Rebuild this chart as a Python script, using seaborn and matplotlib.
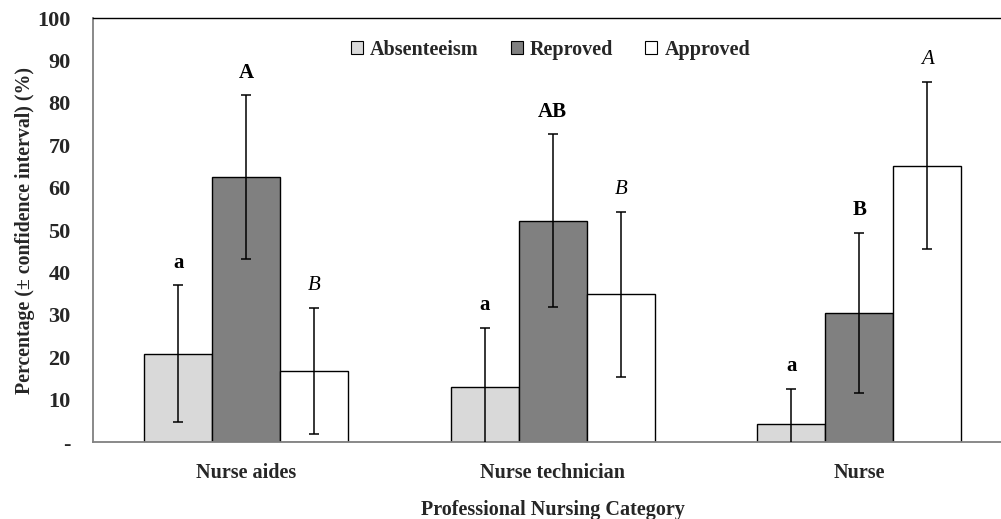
import matplotlib
matplotlib.use("Agg")
import matplotlib.pyplot as plt
import seaborn as sns
import pandas as pd
import numpy as np

categories = ["Nurse aides", "Nurse technician", "Nurse"]
series = ["Absenteeism", "Reproved", "Approved"]
absenteeism = [20.8, 13.0, 4.3]
reproved = [62.5, 52.2, 30.4]
approved = [16.7, 34.8, 65.2]
ci_absenteeism = [16.2, 13.9, 8.3]
ci_reproved = [19.3, 20.4, 18.9]
ci_approved = [14.8, 19.4, 19.6]
letters_absenteeism = ["a", "a", "a"]
letters_reproved = ["A", "AB", "B"]
letters_approved = ["B", "B", "A"]
yticks = [0, 10, 20, 30, 40, 50, 60, 70, 80, 90, 100]
yticklabels = ["-", "10", "20", "30", "40", "50", "60", "70", "80", "90", "100"]
colors = {"Absenteeism": "#d9d9d9", "Reproved": "#808080", "Approved": "#ffffff"}

values = {"Absenteeism": absenteeism, "Reproved": reproved, "Approved": approved}
cis = {"Absenteeism": ci_absenteeism, "Reproved": ci_reproved, "Approved": ci_approved}
letters = {"Absenteeism": letters_absenteeism, "Reproved": letters_reproved, "Approved": letters_approved}

rows = []
for s in series:
    for c, v in zip(categories, values[s]):
        rows.append({"Category": c, "Series": s, "Value": v})
df = pd.DataFrame(rows)

sns.set_style("white")
plt.rcParams["font.family"] = ["Liberation Serif", "DejaVu Serif"]
plt.rcParams["font.weight"] = "bold"

fig = plt.figure(figsize=(10.01, 5.19), dpi=100)
ax = fig.add_axes([93 / 1001, 77 / 519, 919.5 / 1001, 424 / 519])

sns.barplot(data=df, x="Category", y="Value", hue="Series", order=categories,
            hue_order=series, palette=colors, width=0.667, gap=0,
            edgecolor="black", linewidth=1.0, errorbar=None, ax=ax, legend=True)

# error bars and letters
for container, s in zip(ax.containers, series):
    xs = [p.get_x() + p.get_width() / 2 for p in container.patches]
    ys = [p.get_height() for p in container.patches]
    ax.errorbar(xs, ys, yerr=cis[s], fmt="none", ecolor="black",
                elinewidth=1.1, capsize=3.5, capthick=1.1, clip_on=True, zorder=5)
    for x, y, e, lab in zip(xs, ys, cis[s], letters[s]):
        style = "italic" if s == "Approved" else "normal"
        weight = "normal" if s == "Approved" else "bold"
        ax.text(x, y + e + 5.3, lab, ha="center", va="center", fontsize=15,
                fontstyle=style, fontweight=weight, color="black")

ax.set_ylim(0, 100)
ax.set_xlim(-0.5, 2.5)
ax.set_yticks(yticks)
ax.set_yticklabels(yticklabels, fontsize=16, fontweight="bold")
ax.set_xticks(range(len(categories)))
ax.set_xticklabels(categories, fontsize=14.5, fontweight="bold")
ax.set_xticks([-0.5, 0.5, 1.5, 2.5], minor=True)
ax.tick_params(axis="x", which="major", length=0, pad=15)
ax.tick_params(axis="x", which="minor", length=5, color="#808080", width=1, direction="out")
ax.tick_params(axis="y", which="major", length=5, color="#808080", width=1, direction="out", pad=11)

ax.set_ylabel("Percentage (\u00b1 confidence interval) (%)", fontsize=14.3, fontweight="bold", labelpad=2)
ax.set_xlabel("Professional Nursing Category", fontsize=14.5, fontweight="bold", labelpad=12)

for side in ["left", "bottom"]:
    ax.spines[side].set_color("#808080")
    ax.spines[side].set_linewidth(1.3)
ax.spines["top"].set_color("black")
ax.spines["top"].set_linewidth(1.0)
ax.spines["right"].set_visible(False)

leg = ax.legend(loc="upper center", bbox_to_anchor=(0.4975, 0.968), ncol=3, frameon=False,
                prop={"family": "Liberation Serif", "weight": "bold", "size": 14.5},
                handlelength=0.6, handleheight=0.6, handletextpad=0.35, columnspacing=1.6,
                borderaxespad=0)
for h in leg.legend_handles:
    h.set_edgecolor("black")
    h.set_linewidth(0.8)

fig.savefig("out.png", dpi=100)
